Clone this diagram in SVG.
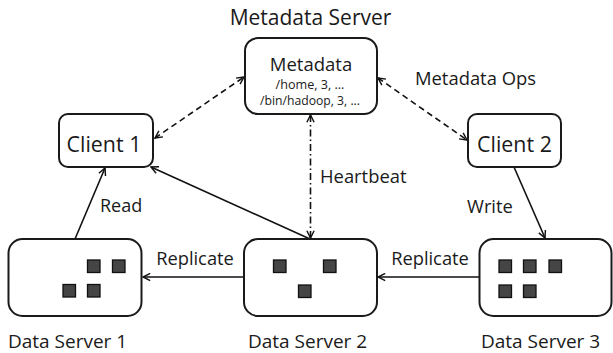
<svg xmlns="http://www.w3.org/2000/svg" width="613" height="353" viewBox="0 0 613 353">
  <defs>
    <style>
      .box { fill: #ffffff; stroke: #1a1a1a; stroke-width: 2; }
      .blk { fill: #454545; stroke: #111111; stroke-width: 1.3; }
      .lbl { font-family: "Open Sans", "Liberation Sans", sans-serif; fill: #1a1a1a; }
      .link { fill: none; stroke: #111111; stroke-width: 1.6; }
      .dash { stroke-dasharray: 6 4; }
      .dashdot { stroke-dasharray: 7 3 1.5 3; }
    </style>
    <marker id="arrow" viewBox="0 0 10 10" refX="9" refY="5" markerWidth="9" markerHeight="9" markerUnits="userSpaceOnUse" orient="auto-start-reverse">
      <path d="M1,1 L9,5 L1,9" fill="none" stroke="#111111" stroke-width="1.6"/>
    </marker>
  </defs>

  <!-- connectors -->
  <g id="connectors">
    <line class="link dash" x1="155" y1="138" x2="244" y2="77" marker-start="url(#arrow)" marker-end="url(#arrow)"/>
    <line class="link dash" x1="378" y1="78" x2="467" y2="140" marker-start="url(#arrow)" marker-end="url(#arrow)"/>
    <line class="link dashdot" x1="310.5" y1="115" x2="310.5" y2="238" marker-start="url(#arrow)" marker-end="url(#arrow)"/>
    <line class="link" x1="310" y1="239" x2="151" y2="167" marker-end="url(#arrow)"/>
    <line class="link" x1="75" y1="239" x2="105" y2="168" marker-end="url(#arrow)"/>
    <line class="link" x1="514" y1="167" x2="545" y2="238" marker-end="url(#arrow)"/>
    <line class="link" x1="244" y1="277" x2="143" y2="277" marker-end="url(#arrow)"/>
    <line class="link" x1="479" y1="277" x2="378" y2="277" marker-end="url(#arrow)"/>
    <text class="lbl" x="415" y="85" font-size="18.4">Metadata Ops</text>
    <text class="lbl" x="320" y="183" font-size="18.4">Heartbeat</text>
    <text class="lbl" x="100" y="211.5" font-size="18">Read</text>
    <text class="lbl" x="467" y="213" font-size="18.3">Write</text>
    <text class="lbl" x="195" y="265" font-size="18.3" text-anchor="middle">Replicate</text>
    <text class="lbl" x="430" y="265" font-size="18.3" text-anchor="middle">Replicate</text>
  </g>

  <!-- metadata server -->
  <g id="metadata-server">
    <text class="lbl" x="310.5" y="25" font-size="21" text-anchor="middle">Metadata Server</text>
    <rect class="box" x="245" y="38" width="132" height="76" rx="13"/>
    <text class="lbl" x="311" y="71" font-size="18.5" text-anchor="middle">Metadata</text>
    <text class="lbl" x="310" y="89" font-size="12.6" text-anchor="middle">/home, 3, ...</text>
    <text class="lbl" x="310" y="104.5" font-size="12.2" text-anchor="middle">/bin/hadoop, 3, ...</text>
  </g>

  <!-- clients -->
  <g id="client-1">
    <rect class="box" x="59" y="114" width="94" height="53" rx="9"/>
    <text class="lbl" x="104" y="152" font-size="21.4" text-anchor="middle">Client 1</text>
  </g>
  <g id="client-2">
    <rect class="box" x="468" y="114" width="93" height="53" rx="9"/>
    <text class="lbl" x="514.5" y="152" font-size="21.4" text-anchor="middle">Client 2</text>
  </g>

  <!-- data servers -->
  <g id="data-server-1">
    <rect class="box" x="8.5" y="239" width="133" height="77" rx="14"/>
    <rect class="blk" x="87.5" y="260" width="12.5" height="12.5"/>
    <rect class="blk" x="112.5" y="260" width="12.5" height="12.5"/>
    <rect class="blk" x="63" y="284.5" width="12.5" height="12.5"/>
    <rect class="blk" x="87.5" y="284.5" width="12.5" height="12.5"/>
    <text class="lbl" x="8" y="348" font-size="19">Data Server 1</text>
  </g>
  <g id="data-server-2">
    <rect class="box" x="244" y="239" width="133" height="77" rx="14"/>
    <rect class="blk" x="273.5" y="260" width="12.5" height="12.5"/>
    <rect class="blk" x="323.5" y="260" width="12.5" height="12.5"/>
    <rect class="blk" x="298.5" y="285" width="12.5" height="12.5"/>
    <text class="lbl" x="248" y="348" font-size="19">Data Server 2</text>
  </g>
  <g id="data-server-3">
    <rect class="box" x="479.5" y="239" width="132" height="77" rx="14"/>
    <rect class="blk" x="499" y="260" width="12.5" height="12.5"/>
    <rect class="blk" x="523.5" y="260" width="12.5" height="12.5"/>
    <rect class="blk" x="549" y="260" width="12.5" height="12.5"/>
    <rect class="blk" x="499" y="285" width="12.5" height="12.5"/>
    <rect class="blk" x="523.5" y="285" width="12.5" height="12.5"/>
    <text class="lbl" x="481" y="348" font-size="19">Data Server 3</text>
  </g>
</svg>
